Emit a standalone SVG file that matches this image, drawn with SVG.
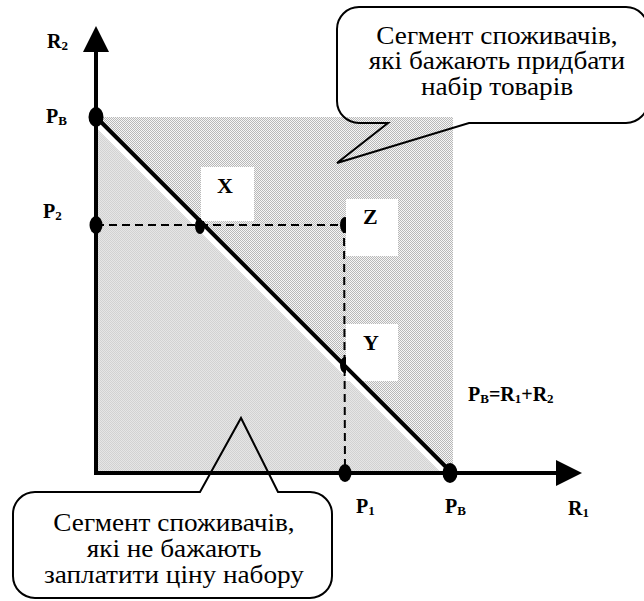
<svg xmlns="http://www.w3.org/2000/svg" width="644" height="601" viewBox="0 0 644 601">
<style>
text{font-family:'Liberation Serif','Times New Roman',Tinos,'DejaVu Serif',serif}
.lbl{font-weight:bold;font-size:20px;fill:#000}
.sub{font-size:13px}
.big{font-weight:bold;font-size:22px;fill:#000}
.call{font-size:25px;fill:#000;text-anchor:middle}
.axis{stroke:#000;stroke-width:4;fill:none}
.dash{stroke:#000;stroke-width:2;stroke-dasharray:8 5;fill:none}
.bubble{fill:none;stroke:#000;stroke-width:2;stroke-linejoin:miter}
</style>
<defs>
<pattern id="dots" width="2" height="2" patternUnits="userSpaceOnUse">
<rect width="2" height="2" fill="#f6f6f6"/>
<rect width="1" height="1" fill="#b8b8b8"/>
<rect x="1" y="1" width="1" height="1" fill="#b8b8b8"/>
</pattern>
<pattern id="light" width="2" height="2" patternUnits="userSpaceOnUse">
<rect width="2" height="2" fill="#e6e6e6"/>
<rect width="1" height="1" fill="#d2d2d2"/>
<rect x="1" y="1" width="1" height="1" fill="#d2d2d2"/>
</pattern>
<marker id="arr" viewBox="0 0 26 26" refX="0" refY="13" markerWidth="26" markerHeight="26" markerUnits="userSpaceOnUse" orient="auto">
<path d="M0 0 L26 13 L0 26 Z" fill="#000"/>
</marker>
</defs>

<g id="regions">
<rect x="96" y="117" width="357" height="356" fill="url(#dots)"/>
<polygon points="96,117 451,472 440,472 96,128" fill="#fff"/>
<polygon points="96,128 96,472 440,472" fill="url(#light)"/>
</g>

<g id="connectors">
<line class="dash" x1="96" y1="225" x2="343" y2="225"/>
<line class="dash" x1="344" y1="225" x2="345" y2="473"/>
</g>

<g id="points">
<ellipse cx="200" cy="226" rx="5" ry="8"/>
<ellipse cx="345" cy="225" rx="5" ry="8"/>
<ellipse cx="345" cy="365" rx="5" ry="8"/>
</g>

<g id="labelboxes" fill="#fff">
<rect x="201" y="167" width="53" height="54"/>
<rect x="346" y="199" width="52" height="57"/>
<rect x="346" y="324" width="52" height="57"/>
</g>

<g id="budget-line">
<line x1="96" y1="117" x2="451" y2="472" stroke="#000" stroke-width="4"/>
</g>

<g id="axes">
<line class="axis" x1="96" y1="473" x2="96" y2="52" marker-end="url(#arr)"/>
<line class="axis" x1="94" y1="473" x2="556" y2="473" marker-end="url(#arr)"/>
<ellipse cx="96" cy="117" rx="7.5" ry="10"/>
<ellipse cx="96" cy="225" rx="6.5" ry="9"/>
<ellipse cx="345" cy="473" rx="6.5" ry="9"/>
<ellipse cx="450" cy="473" rx="7.5" ry="10"/>
</g>

<g id="axis-labels">
<text class="lbl" x="47" y="48">R<tspan class="sub" dy="2">2</tspan></text>
<text class="lbl" x="46" y="123">P<tspan class="sub" dy="2">B</tspan></text>
<text class="lbl" x="43" y="218">P<tspan class="sub" dy="2">2</tspan></text>
<text class="lbl" x="356" y="513">P<tspan class="sub" dy="2">1</tspan></text>
<text class="lbl" x="445" y="513">P<tspan class="sub" dy="2">B</tspan></text>
<text class="lbl" x="568" y="515">R<tspan class="sub" dy="2">1</tspan></text>
<text class="lbl" x="468" y="401">P<tspan class="sub" dy="2">B</tspan><tspan dy="-2">=R</tspan><tspan class="sub" dy="2">1</tspan><tspan dy="-2">+R</tspan><tspan class="sub" dy="2">2</tspan></text>
</g>

<g id="point-labels">
<text class="big" x="217" y="193">X</text>
<text class="big" x="363" y="224">Z</text>
<text class="big" x="363" y="350">Y</text>
</g>

<g id="callout-top">
<path class="bubble" d="M359 7 H626 A22 22 0 0 1 648 29 V101 A22 22 0 0 1 626 123 H469 L337 163 L388 123 H359 A22 22 0 0 1 337 101 V29 A22 22 0 0 1 359 7 Z"/>
<g transform="translate(497 0) scale(1.09 1)">
<text class="call" x="0" y="44">Сегмент споживачів,</text>
<text class="call" x="0" y="69">які бажають придбати</text>
<text class="call" x="0" y="95">набір товарів</text>
</g>
</g>

<g id="callout-bottom">
<path class="bubble" d="M35 492 H200 L241 418 L278 492 H310 A22 22 0 0 1 332 514 V576 A22 22 0 0 1 310 598 H35 A22 22 0 0 1 13 576 V514 A22 22 0 0 1 35 492 Z"/>
<g transform="translate(174 0) scale(1.09 1)">
<text class="call" x="0" y="531">Сегмент споживачів,</text>
<text class="call" x="0" y="557">які не бажають</text>
<text class="call" x="0" y="583">заплатити ціну набору</text>
</g>
</g>
</svg>
